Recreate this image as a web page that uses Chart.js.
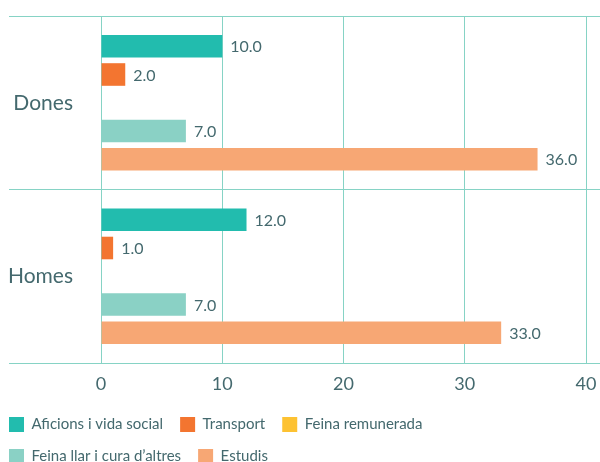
<!DOCTYPE html>
<html>
<head>
<meta charset="utf-8">
<script src="https://cdn.jsdelivr.net/npm/chart.js@4"></script>
<style>
html, body { margin: 0; padding: 0; background: #fff; overflow: hidden; width: 600px; height: 462px; }
#wrap { position: absolute; left: -8px; top: 0; width: 608px; height: 474px; }
</style>
</head>
<body>
<div id="wrap"><canvas id="chart"></canvas></div>
<script>
const categories = ['Dones', 'Homes'];
const seriesNames = ['Aficions i vida social', 'Transport', 'Feina remunerada', 'Feina llar i cura d\u2019altres', 'Estudis'];
const aficions = [10, 12];
const transport = [2, 1];
const feinaRemunerada = [null, null];
const feinaLlar = [7, 7];
const estudis = [36, 33];
const xTicks = [0, 10, 20, 30, 40];
const seriesColors = ['#22bcae', '#f37530', '#fdc232', '#8ad1c5', '#f7a774'];

const gridColor = '#86d3c5';
const textColor = '#44696e';
const fontFamily = 'Lato, "Open Sans", sans-serif';

// labels next to each bar
const valueLabels = {
    id: 'valueLabels',
    afterDatasetsDraw(chart) {
        const ctx = chart.ctx;
        ctx.save();
        ctx.font = '16px ' + fontFamily;
        ctx.fillStyle = textColor;
        ctx.textAlign = 'left';
        ctx.textBaseline = 'middle';
        chart.data.datasets.forEach((ds, i) => {
            chart.getDatasetMeta(i).data.forEach((bar, j) => {
                const v = ds.data[j];
                if (v === null || v === undefined) return;
                ctx.fillText(v.toFixed(1), bar.x + 8, bar.y + 1);
            });
        });
        ctx.restore();
    }
};

const allSeries = [aficions, transport, feinaRemunerada, feinaLlar, estudis];

new Chart(document.getElementById('chart'), {
    type: 'bar',
    data: {
        labels: categories,
        datasets: allSeries.map((values, i) => ({
            label: seriesNames[i],
            data: values,
            backgroundColor: seriesColors[i],
            borderWidth: 0,
            barPercentage: 0.8,
            categoryPercentage: 0.814
        }))
    },
    options: {
        indexAxis: 'y',
        responsive: true,
        maintainAspectRatio: false,
        animation: false,
        layout: { padding: { top: 16, left: 0, right: 0, bottom: 0 } },
        plugins: {
            tooltip: { enabled: false },
            legend: {
                position: 'bottom',
                align: 'start',
                labels: {
                    boxWidth: 15,
                    boxHeight: 15,
                    padding: 17,
                    color: textColor,
                    font: { family: fontFamily, size: 15 }
                }
            }
        },
        scales: {
            x: {
                min: 0,
                max: 41.15,
                afterBuildTicks(scale) {
                    scale.ticks = xTicks.map(v => ({ value: v }));
                },
                afterFit(scale) {
                    scale.height = 37;
                    scale.paddingLeft = 0;
                    scale.paddingRight = 0;
                },
                grid: { color: gridColor, lineWidth: 1, drawTicks: false },
                border: { display: false },
                ticks: {
                    padding: 10,
                    color: textColor,
                    font: { family: fontFamily, size: 18 }
                }
            },
            y: {
                afterFit(scale) { scale.width = 109; },
                grid: { color: gridColor, lineWidth: 1, tickLength: 92, offset: true },
                border: { display: false },
                ticks: {
                    padding: -64,
                    color: textColor,
                    font: { family: fontFamily, size: 21 }
                }
            }
        }
    },
    plugins: [valueLabels]
});
</script>
</body>
</html>
